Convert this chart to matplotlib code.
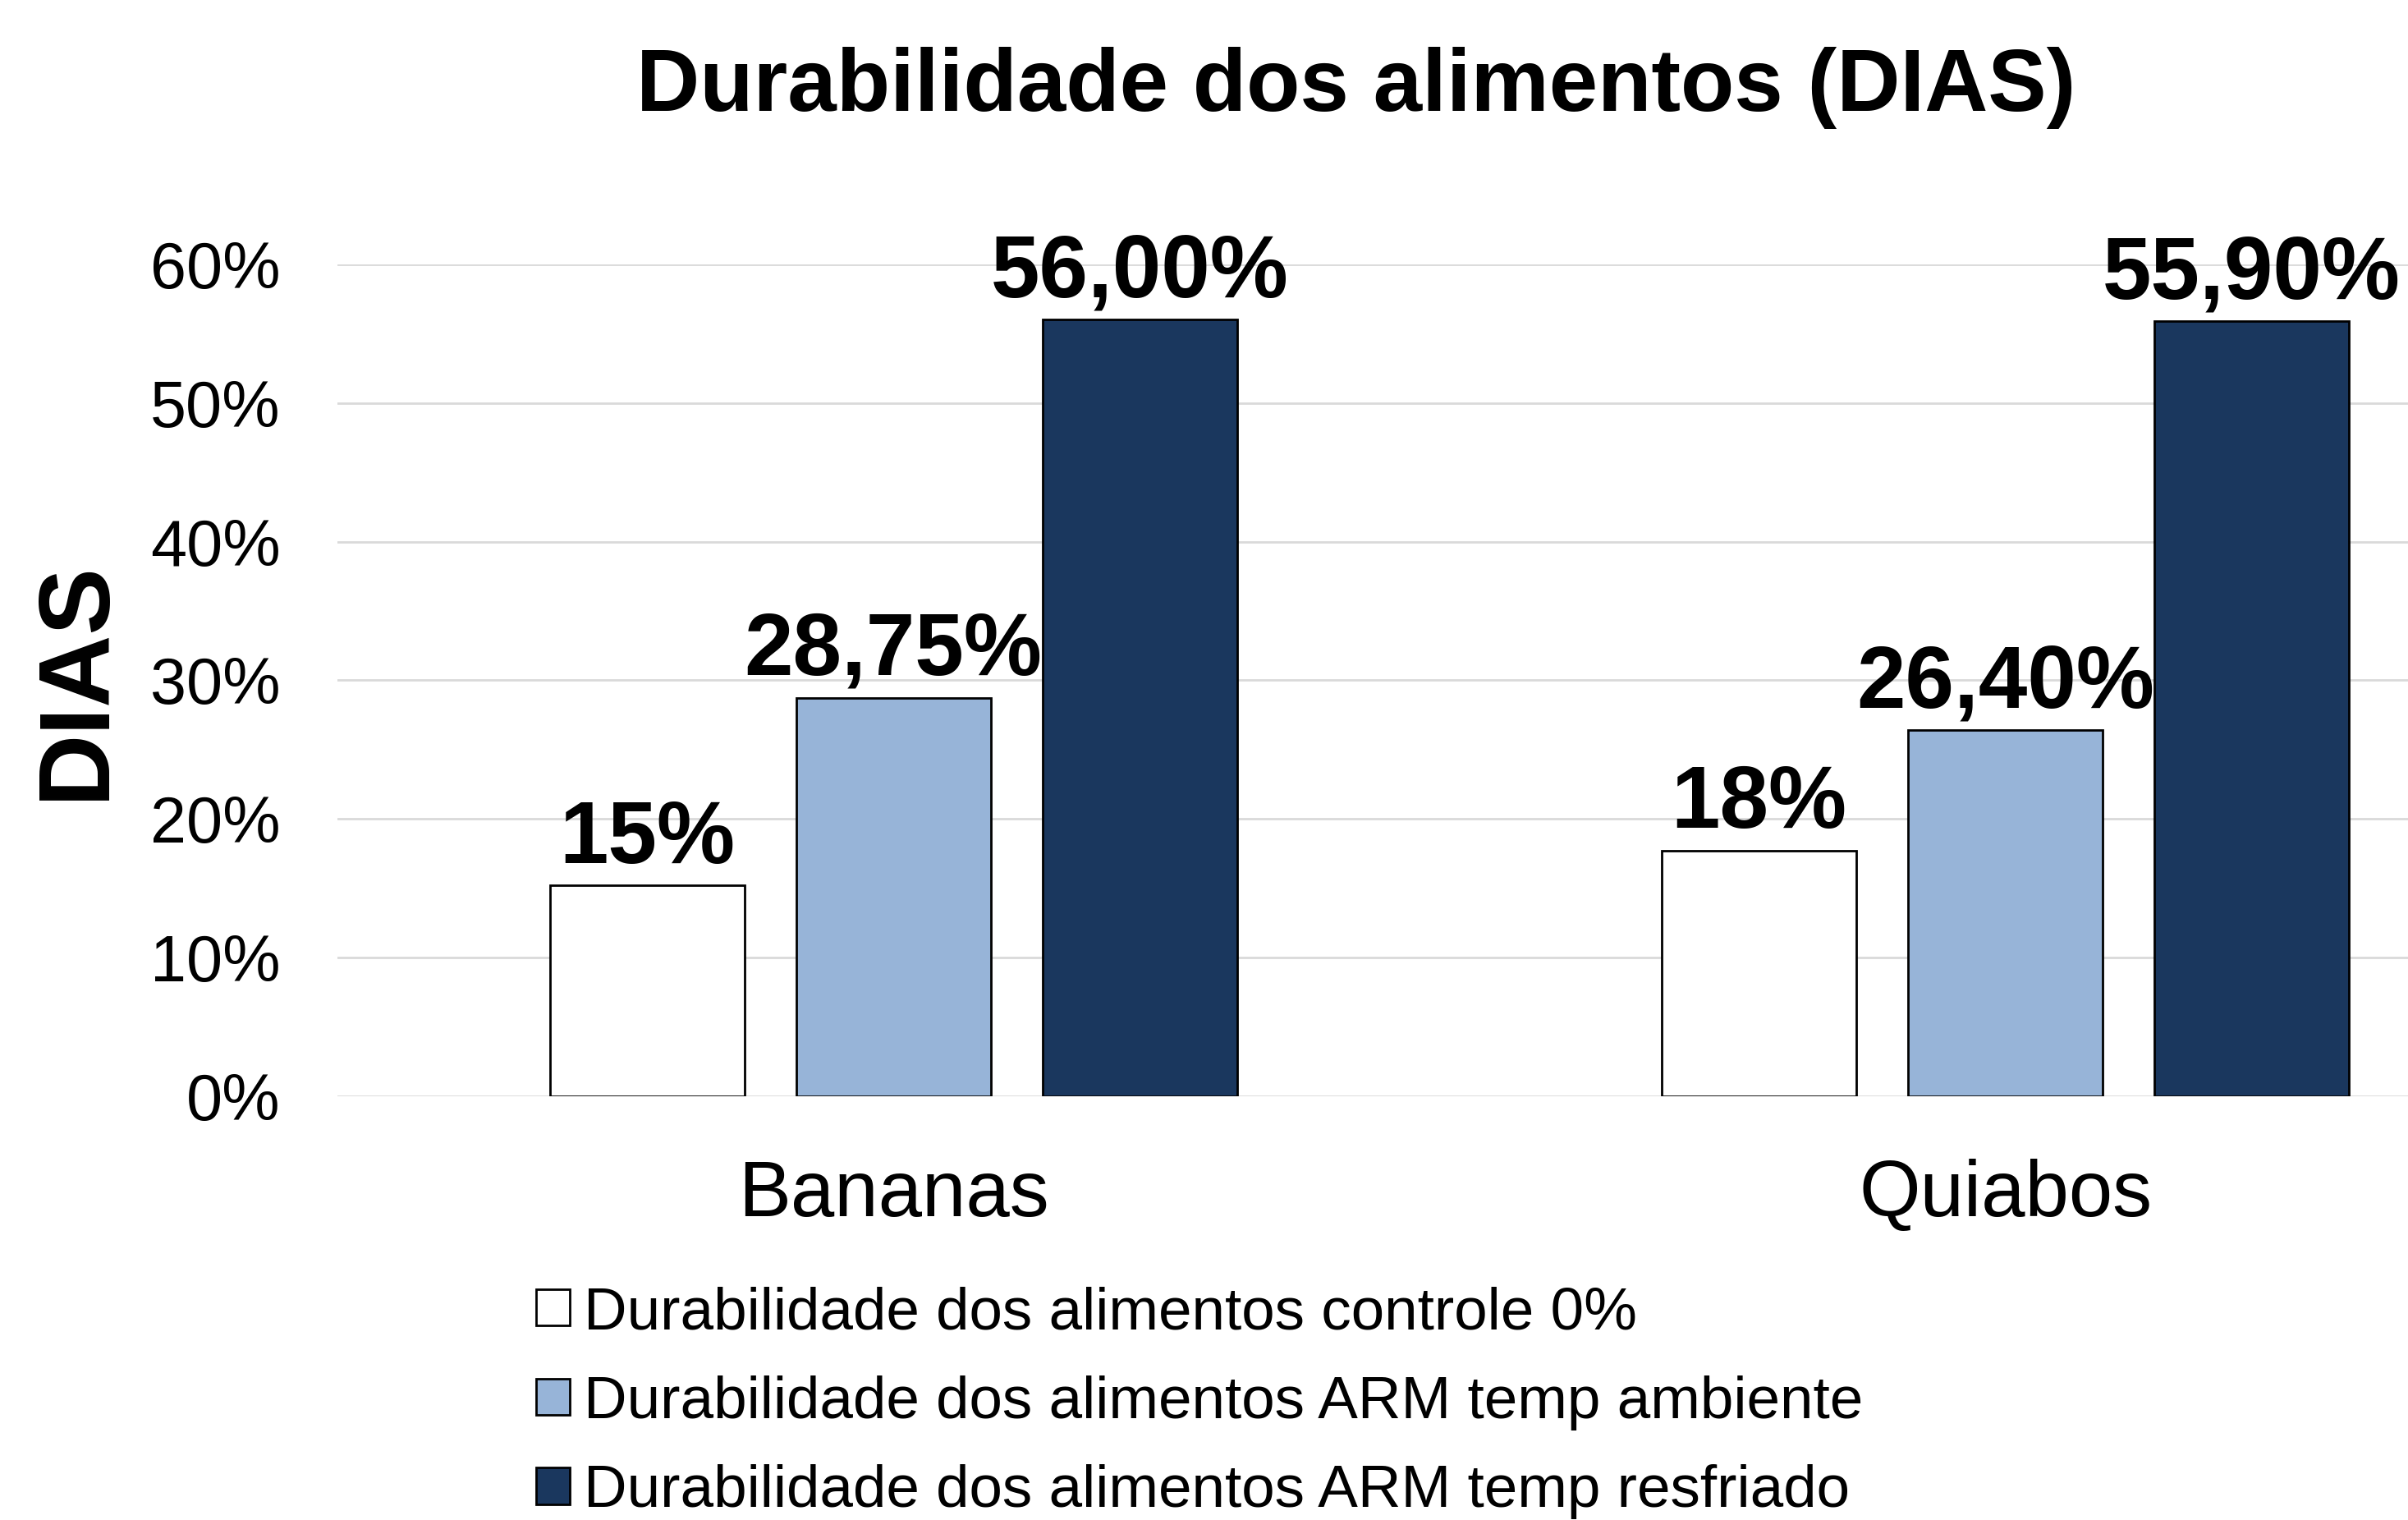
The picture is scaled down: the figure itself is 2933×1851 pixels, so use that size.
import numpy as np
import matplotlib
matplotlib.use("Agg")
import matplotlib.pyplot as plt
from matplotlib.ticker import FuncFormatter

# dados
categorias = ['Bananas', 'Quiabos']
series = ['Durabilidade dos alimentos controle 0%',
          'Durabilidade dos alimentos ARM temp ambiente',
          'Durabilidade dos alimentos ARM temp resfriado']
controle = [0.152, 0.177]
ambiente = [0.2875, 0.264]
resfriado = [0.560, 0.559]
cores = ['#FFFFFF', '#97B4D8', '#1A375E']
formatos = ['{:.0%}', '{:.2%}', '{:.2%}']

plt.rcParams['font.family'] = ['Liberation Sans', 'DejaVu Sans']

fig = plt.figure(figsize=(29.33, 18.51), dpi=100)
ax = fig.add_axes([0.1401, 0.2788, 0.9236, 0.5473])

x = np.arange(len(categorias))
passo = 0.2215
larg = 0.175
valores = [controle, ambiente, resfriado]
for i, (vals, cor, nome, fmt) in enumerate(zip(valores, cores, series, formatos)):
    pos = x + (i - 1) * passo
    ax.bar(pos, vals, width=larg, color=cor, edgecolor='black', linewidth=2.0,
           label=nome, zorder=3)
    for px, v in zip(pos, vals):
        txt = fmt.format(v).replace('.', ',')
        ax.annotate(txt, (px, v), xytext=(0, 20), textcoords='offset points',
                    ha='center', va='baseline', fontsize=77, fontweight='bold')

ax.set_xlim(-0.5, 1.5)
ax.set_ylim(0, 0.6)
ax.set_yticks(np.arange(0, 0.61, 0.1))
ax.yaxis.set_major_formatter(FuncFormatter(lambda v, p: '{:.0f}%'.format(v * 100)))
ax.set_xticks(x)
ax.set_xticklabels(categorias)
ax.tick_params(axis='y', length=0, labelsize=57, pad=50)
ax.tick_params(axis='x', length=0, labelsize=69, pad=55)
ax.grid(axis='y', color='#D9D9D9', linewidth=2, zorder=0)
for s in ax.spines.values():
    s.set_visible(False)

ax.set_ylabel('DIAS', fontsize=88, fontweight='bold')
ax.yaxis.set_label_coords(-0.096, 0.5)

fig.text(1652 / 2933, 1 - 135 / 1851, 'Durabilidade dos alimentos (DIAS)',
         ha='center', va='baseline', fontsize=77, fontweight='bold')

fig.legend(loc='upper left', bbox_to_anchor=(653 / 2933, 1 - 1566 / 1851),
           frameon=False, fontsize=52.5, handlelength=0.56, handleheight=0.56,
           handletextpad=0.24, labelspacing=0.57, borderpad=0, borderaxespad=0)

fig.savefig('out.png', dpi=100)
